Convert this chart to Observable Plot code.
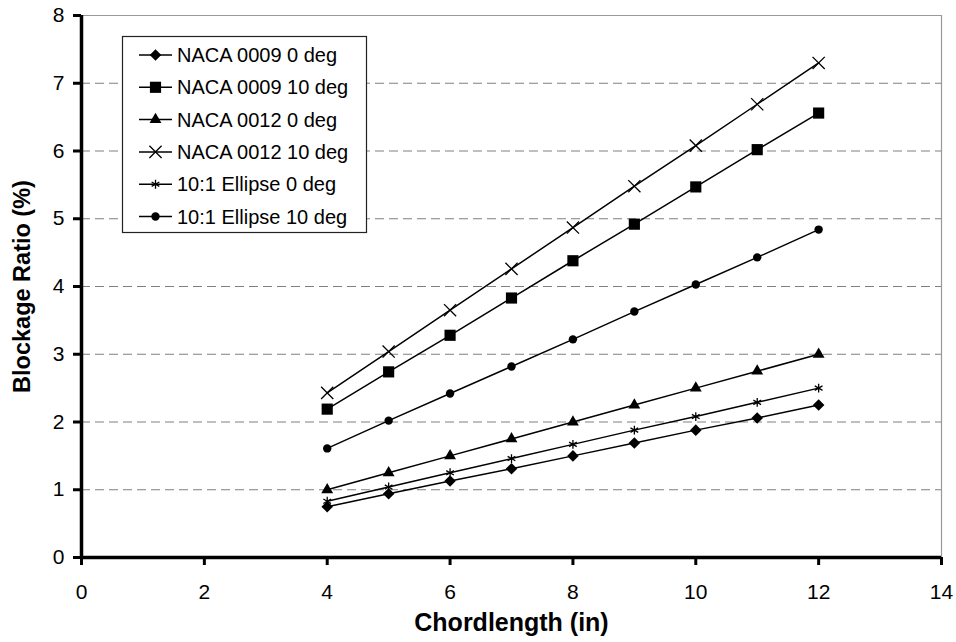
<!DOCTYPE html>
<html>
<head>
<meta charset="utf-8">
<script src="https://cdn.jsdelivr.net/npm/d3@7"></script>
<script src="https://cdn.jsdelivr.net/npm/@observablehq/plot@0.6"></script>
<style>
  html, body { margin: 0; padding: 0; background: #fff; }
  #wrap { position: relative; width: 956px; height: 642px; }
  #legend { position: absolute; left: 0; top: 0; pointer-events: none; }
  svg text { font-family: "Liberation Sans", Arial, sans-serif; }
</style>
</head>
<body>
<div id="wrap"></div>
<script>
// ---- data ----
const chordLengths = [4, 5, 6, 7, 8, 9, 10, 11, 12];
const seriesNames = [
  "NACA 0009 0 deg",
  "NACA 0009 10 deg",
  "NACA 0012 0 deg",
  "NACA 0012 10 deg",
  "10:1 Ellipse 0 deg",
  "10:1 Ellipse 10 deg"
];
const naca0009_0 = [0.75, 0.94, 1.13, 1.31, 1.50, 1.69, 1.88, 2.06, 2.25];
const naca0009_10 = [2.19, 2.74, 3.28, 3.83, 4.38, 4.92, 5.47, 6.02, 6.56];
const naca0012_0 = [1.00, 1.25, 1.50, 1.75, 2.00, 2.25, 2.50, 2.75, 3.00];
const naca0012_10 = [2.43, 3.04, 3.65, 4.26, 4.87, 5.48, 6.08, 6.69, 7.30];
const ellipse_0 = [0.83, 1.04, 1.25, 1.46, 1.67, 1.88, 2.08, 2.29, 2.50];
const ellipse_10 = [1.61, 2.02, 2.42, 2.82, 3.22, 3.63, 4.03, 4.43, 4.84];
const xTicks = [0, 2, 4, 6, 8, 10, 12, 14];
const yTicks = [0, 1, 2, 3, 4, 5, 6, 7, 8];
const gridLines = [1, 2, 3, 4, 5, 6, 7];

const seriesValues = [naca0009_0, naca0009_10, naca0012_0, naca0012_10, ellipse_0, ellipse_10];

// marker styles per series
const markerStyles = [
  {symbol: "diamond2", r: 5.2, filled: true},
  {symbol: "square", r: 6.3, filled: true},
  {symbol: "triangle", r: 4.4, filled: true},
  {symbol: "times", r: 5.6, filled: false},
  {symbol: "asterisk", r: 4.2, filled: false},
  {symbol: "circle", r: 4.2, filled: true}
];

const rows = [];
seriesNames.forEach((name, i) => {
  chordLengths.forEach((c, j) => rows.push({series: name, chord: c, value: seriesValues[i][j]}));
});

const font = "'Liberation Sans', Arial, sans-serif";

const dotMarks = seriesNames.map((name, i) => {
  const s = markerStyles[i];
  return Plot.dot(rows.filter(d => d.series === name), {
    x: "chord", y: "value",
    symbol: s.symbol, r: s.r,
    fill: s.filled ? "black" : "none",
    stroke: s.filled ? "none" : "black",
    strokeWidth: s.filled ? 0 : 1.3
  });
});

const chart = Plot.plot({
  width: 956,
  height: 642,
  marginLeft: 81,
  marginRight: 15,
  marginTop: 15,
  marginBottom: 85,
  style: {fontFamily: font, background: "white", overflow: "visible"},
  x: {domain: [0, 14]},
  y: {domain: [0, 8]},
  marks: [
    Plot.ruleY(gridLines, {stroke: "#808080", strokeWidth: 1.2, strokeDasharray: "9,5"}),
    Plot.ruleY([8], {stroke: "#999", strokeWidth: 1.2}),
    Plot.ruleX([14], {stroke: "#999", strokeWidth: 1.2}),
    Plot.line(rows, {x: "chord", y: "value", z: "series", stroke: "black", strokeWidth: 1.5}),
    ...dotMarks,
    Plot.ruleX([0], {stroke: "black", strokeWidth: 3.5}),
    Plot.ruleY([0], {stroke: "black", strokeWidth: 3.5}),
    Plot.axisX({ticks: xTicks, tickSize: 8, tickPadding: 19, strokeWidth: 3, fontSize: 21, label: null, fill: "black"}),
    Plot.axisY({ticks: yTicks, tickSize: 8, tickPadding: 9, strokeWidth: 3, fontSize: 21, label: null, fill: "black"}),
    Plot.text(["Chordlength (in)"], {frameAnchor: "bottom", dy: 65, fontSize: 25, fontWeight: "bold", fill: "black", lineAnchor: "middle", textAnchor: "middle"}),
    Plot.text(["Blockage Ratio (%)"], {frameAnchor: "left", dx: -59, rotate: -90, fontSize: 23.5, fontWeight: "bold", fill: "black", lineAnchor: "middle", textAnchor: "middle"})
  ]
});

const wrap = document.getElementById("wrap");
wrap.appendChild(chart);

// ---- legend (inside plot area, upper left) ----
const lg = d3.select(wrap).append("svg")
  .attr("id", "legend")
  .attr("width", 956).attr("height", 642);
const box = {x: 122.5, y: 36.5, w: 244, h: 196};
lg.append("rect")
  .attr("x", box.x).attr("y", box.y).attr("width", box.w).attr("height", box.h)
  .attr("fill", "white").attr("stroke", "#222").attr("stroke-width", 1.2);

const d3Symbols = {
  diamond2: d3.symbolDiamond2, square: d3.symbolSquare, triangle: d3.symbolTriangle,
  times: d3.symbolTimes, asterisk: d3.symbolAsterisk, circle: d3.symbolCircle
};
seriesNames.forEach((name, i) => {
  const cy = 55 + i * 32.3;
  const s = markerStyles[i];
  const g = lg.append("g");
  g.append("line").attr("x1", 139).attr("x2", 172).attr("y1", cy).attr("y2", cy)
    .attr("stroke", "black").attr("stroke-width", 1.5);
  g.append("path")
    .attr("transform", `translate(155.5,${cy})`)
    .attr("d", d3.symbol(d3Symbols[s.symbol], Math.PI * s.r * s.r)())
    .attr("fill", s.filled ? "black" : "none")
    .attr("stroke", s.filled ? "none" : "black")
    .attr("stroke-width", 1.3);
  g.append("text").attr("x", 177).attr("y", cy).attr("dy", "0.35em")
    .attr("font-size", 20).attr("fill", "black").text(name);
});
</script>
</body>
</html>
